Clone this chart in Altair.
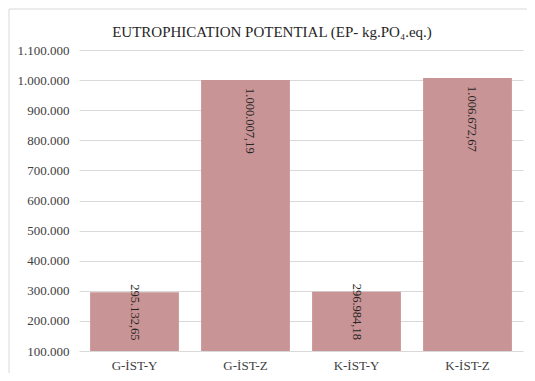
import altair as alt
import pandas as pd

categories = ["G-İST-Y", "G-İST-Z", "K-İST-Y", "K-İST-Z"]
values = [295132.65, 1000007.19, 296984.18, 1006672.67]
y_ticks = [100000, 200000, 300000, 400000, 500000, 600000, 700000, 800000, 900000, 1000000, 1100000]

df = pd.DataFrame({"cat": categories, "val": values})

FONT = "Liberation Serif"

x = alt.X("cat:N", sort=categories, title=None,
          scale=alt.Scale(paddingInner=0.2, paddingOuter=0.1),
          axis=alt.Axis(labelAngle=0, labelFont=FONT, labelFontSize=13, labelColor="#404040",
                        labelPadding=8, ticks=False, domain=False, grid=False))
y = alt.Y("val:Q", title=None,
          scale=alt.Scale(domain=[100000, 1100000], zero=False, nice=False),
          axis=alt.Axis(values=y_ticks, tickCount=11, format=",.0f", labelFont=FONT, labelFontSize=13,
                        labelColor="#404040", labelPadding=10, ticks=False, domain=False,
                        labelOverlap=False, gridColor="#D9D9D9", gridWidth=1))

base = alt.Chart(df)

frame = alt.Chart(pd.DataFrame({"k": [0]})).mark_rect(
    fill=None, stroke="#D9D9D9", strokeWidth=1
).encode(x=alt.value(-70), x2=alt.value(453), y=alt.value(-41), y2=alt.value(345))

bars = base.mark_bar(color="#C99495").encode(x=x, y=y, y2=alt.datum(100000))

tall = base.transform_filter("datum.val > 500000").mark_text(
    angle=90, align="left", baseline="middle", dx=8, dy=-4,
    font=FONT, fontSize=12.5, color="#262626"
).encode(x=alt.X("cat:N", sort=categories), y="val:Q", text=alt.Text("val:Q", format=",.2f"))

short = base.transform_filter("datum.val <= 500000").mark_text(
    angle=90, align="left", baseline="middle", dx=-8,
    font=FONT, fontSize=12.5, color="#262626"
).encode(x=alt.X("cat:N", sort=categories), y="val:Q", text=alt.Text("val:Q", format=",.2f"))

chart = alt.layer(bars, tall, short, frame).properties(
    width=444, height=301,
    title=alt.TitleParams("EUTROPHICATION POTENTIAL (EP- kg.PO₄.eq.)", font=FONT, fontSize=15,
                          fontWeight="normal", color="#262626", anchor="middle", dx=-29, offset=-31),
    autosize=alt.AutoSizeParams(type="none"),
    padding={"left": 71, "top": 42, "right": 4, "bottom": 22},
).configure(
    locale={"number": {"decimal": ",", "thousands": ".", "grouping": [3], "currency": ["", ""]}}
).configure_view(stroke=None)

chart.save("out.html", embed_options={"renderer": "svg", "actions": False})
